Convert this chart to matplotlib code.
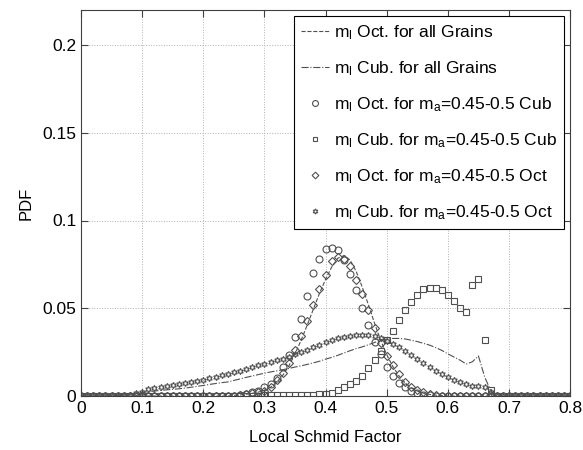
import numpy as np
import matplotlib
matplotlib.use('Agg')
import matplotlib.pyplot as plt

plt.rcParams['font.family'] = ['Liberation Sans', 'DejaVu Sans']
plt.rcParams['mathtext.fontset'] = 'custom'
plt.rcParams['mathtext.rm'] = 'Liberation Sans'

# bin centres of the local Schmid factor histograms
schmid = np.round(np.arange(0, 0.805, 0.01), 2)

# all grains (lines)
oct_all = [0.0] * 25 + [
    0.0003, 0.0006, 0.001, 0.0015, 0.0022, 0.0032, 0.005, 0.0078, 0.0118, 0.0172,
    0.0240, 0.0318, 0.0405, 0.0495, 0.0585, 0.0665, 0.0735, 0.0785, 0.0800, 0.0775,
    0.0710, 0.0620, 0.0520, 0.0415, 0.0318, 0.0235, 0.0168, 0.0115, 0.0075, 0.0047,
    0.0028, 0.0016, 0.0009, 0.0005, 0.0002] + [0.0] * 21
cub_all = [0.0] * 6 + [
    0.0003, 0.0006, 0.001, 0.0015, 0.002, 0.0024, 0.0028, 0.0032, 0.0035, 0.0038,
    0.0041, 0.0045, 0.005, 0.0055, 0.006, 0.0066, 0.0071, 0.0076, 0.008, 0.0089,
    0.0097, 0.0106, 0.0114, 0.0122, 0.013, 0.0137, 0.0143, 0.015, 0.0157, 0.0165,
    0.0172, 0.018, 0.0189, 0.0198, 0.021, 0.022, 0.0232, 0.0245, 0.0258, 0.027,
    0.028, 0.0292, 0.0305, 0.0318, 0.0325, 0.0328, 0.0328, 0.0325, 0.0318, 0.031,
    0.030, 0.029, 0.0276, 0.026, 0.024, 0.0222, 0.0204, 0.0182, 0.0195, 0.0228,
    0.011, 0.003] + [0.0] * 13

# grains with m_a = 0.45-0.5 (markers)
oct_for_cub = [0.0] * 26 + [
    0.0005, 0.001, 0.002, 0.003, 0.005, 0.007, 0.010, 0.0167, 0.0233, 0.0337,
    0.0441, 0.0568, 0.0701, 0.0782, 0.0835, 0.0843, 0.0830, 0.0773, 0.0697, 0.0602,
    0.0502, 0.0403, 0.0309, 0.0239, 0.0167, 0.0114, 0.0076, 0.0049, 0.0028, 0.0015,
    0.0008, 0.0004] + [0.0] * 23
cub_for_cub = [0.0] * 30 + [
    0.0003, 0.0004, 0.0004, 0.0005, 0.0005, 0.0006, 0.0006, 0.0007, 0.0008, 0.0009,
    0.0011, 0.0019, 0.0034, 0.0049, 0.0068, 0.0087, 0.0114, 0.0157, 0.0205, 0.0255,
    0.0318, 0.0369, 0.0432, 0.0489, 0.0536, 0.0578, 0.0612, 0.0617, 0.0617, 0.0602,
    0.0574, 0.0540, 0.0504, 0.0479, 0.0631, 0.0669, 0.0318, 0.0034] + [0.0] * 13
oct_for_oct = [0.0] * 26 + [
    0.0005, 0.001, 0.0015, 0.002, 0.003, 0.005, 0.009, 0.013, 0.019, 0.026,
    0.034, 0.043, 0.052, 0.061, 0.069, 0.077, 0.079, 0.078, 0.074, 0.066,
    0.058, 0.049, 0.039, 0.030, 0.023, 0.0176, 0.0125, 0.0082, 0.0054, 0.0035,
    0.002, 0.001, 0.0005] + [0.0] * 22
cub_for_oct = [0.0] * 8 + [
    0.0008, 0.0015, 0.0025, 0.0038, 0.0045, 0.005, 0.0055, 0.006, 0.0066, 0.0072,
    0.0078, 0.0085, 0.0093, 0.0101, 0.011, 0.0118, 0.0125, 0.0135, 0.0145, 0.0155,
    0.0165, 0.0175, 0.0183, 0.0193, 0.0203, 0.0213, 0.0225, 0.0237, 0.025, 0.0263,
    0.0278, 0.0292, 0.0306, 0.0318, 0.0328, 0.0337, 0.0344, 0.0349, 0.035, 0.0347,
    0.034, 0.033, 0.0316, 0.0298, 0.0278, 0.0258, 0.0235, 0.0212, 0.0188, 0.0165,
    0.0144, 0.0126, 0.0108, 0.0092, 0.0078, 0.0066, 0.0058, 0.0055, 0.0053, 0.002] + [0.0] * 13

labels = [r'$\mathregular{m_l}$ Oct. for all Grains',
          r'$\mathregular{m_l}$ Cub. for all Grains',
          r'$\mathregular{m_l}$ Oct. for $\mathregular{m_a}$=0.45-0.5 Cub',
          r'$\mathregular{m_l}$ Cub. for $\mathregular{m_a}$=0.45-0.5 Cub',
          r'$\mathregular{m_l}$ Oct. for $\mathregular{m_a}$=0.45-0.5 Oct',
          r'$\mathregular{m_l}$ Cub. for $\mathregular{m_a}$=0.45-0.5 Oct']

col = '#505050'
fig = plt.figure(figsize=(5.83, 4.5), dpi=100)
ax = fig.add_subplot(111)
fig.subplots_adjust(left=0.139, right=0.978, top=0.978, bottom=0.12)

ax.plot(schmid, oct_all, '--', color=col, lw=0.8, label=labels[0])
ax.plot(schmid, cub_all, '-.', color=col, lw=0.8, label=labels[1])
mk = dict(ls='none', color=col, mfc='none', mew=0.8)
ax.plot(schmid, oct_for_cub, marker='o', ms=5, label=labels[2], **mk)
ax.plot(schmid, cub_for_cub, marker='s', ms=4, label=labels[3], **mk)
ax.plot(schmid, oct_for_oct, marker='D', ms=4, label=labels[4], **mk)
ax.plot(schmid, cub_for_oct, marker=(6, 1, 0), ms=4.5, label=labels[5], **mk)

ax.set_xlim(0, 0.8)
ax.set_ylim(0, 0.22)
ax.set_xticks(np.arange(0, 0.81, 0.1))
ax.set_yticks([0, 0.05, 0.1, 0.15, 0.2])
ax.set_xticklabels(['0', '0.1', '0.2', '0.3', '0.4', '0.5', '0.6', '0.7', '0.8'])
ax.set_yticklabels(['0', '0.05', '0.1', '0.15', '0.2'])
ax.tick_params(direction='in', top=True, right=True, labelsize=12.5, length=5, color='#404040')
for s in ax.spines.values():
    s.set_color('#404040')
ax.grid(True, ls=':', color='#b0b0b0', lw=0.7)
ax.set_xlabel('Local Schmid Factor', fontsize=12, labelpad=10)
ax.set_ylabel('PDF', fontsize=12, labelpad=6)

leg = ax.legend(loc='upper right', fontsize=12.5, fancybox=False, framealpha=1,
                edgecolor='black', numpoints=1, handlelength=1.6, labelspacing=1.0,
                borderaxespad=0.35, handletextpad=0.3, borderpad=0.4, markerscale=0.85)
leg.get_frame().set_linewidth(0.8)

fig.savefig('out.png', dpi=100)
